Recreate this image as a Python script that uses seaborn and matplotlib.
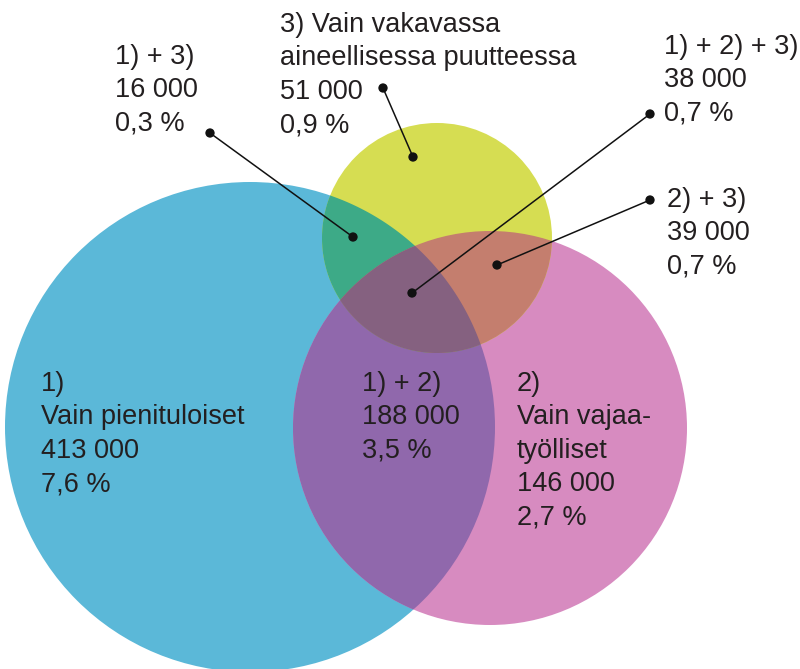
import numpy as np
import pandas as pd
import matplotlib
matplotlib.use("Agg")
import matplotlib.pyplot as plt
from matplotlib.patches import Circle, Polygon
import seaborn as sns

# Venn regions: label, count, share of population
region_names = ["1)\nVain pienituloiset", "2)\nVain vajaa-\ntyölliset",
                "3) Vain vakavassa\naineellisessa puutteessa",
                "1) + 2)", "1) + 3)", "2) + 3)", "1) + 2) + 3)"]
region_counts = ["413 000", "146 000", "51 000", "188 000", "16 000", "39 000", "38 000"]
region_shares = ["7,6 %", "2,7 %", "0,9 %", "3,5 %", "0,3 %", "0,7 %", "0,7 %"]

# layout (pixel space of the 800x669 picture)
circle_xy = [(250, 427), (490, 428), (437, 238)]
circle_r = [245, 197, 115]
label_xy = [(41, 371), (517, 371), (280, 12), (362, 371), (115, 44), (667, 187), (664, 34)]
# leader lines: label end -> region end (only for small regions)
leader_from = {2: (383, 88), 4: (210, 133), 5: (650, 200), 6: (650, 114)}
leader_to = {2: (413, 157), 4: (353, 237), 5: (497, 265), 6: (412, 293)}

colors = {"c1": "#5bb8d8", "c2": "#d78bc0", "c3": "#d6dd52",
          "c12": "#9068ac", "c13": "#3daa87", "c23": "#c47e6e", "c123": "#856180"}
text_color = "#231f20"


def lens(ca, ra, cb, rb, n=120):
    # intersection region of two circles as a polygon
    ca, cb = np.array(ca, float), np.array(cb, float)
    d = np.hypot(*(cb - ca))
    phi_ab = np.arctan2(*(cb - ca)[::-1])
    phi_ba = np.arctan2(*(ca - cb)[::-1])
    al_a = np.arccos((d**2 + ra**2 - rb**2) / (2 * d * ra))
    al_b = np.arccos((d**2 + rb**2 - ra**2) / (2 * d * rb))
    ta = np.linspace(phi_ab - al_a, phi_ab + al_a, n)
    tb = np.linspace(phi_ba - al_b, phi_ba + al_b, n)
    pa = ca + ra * np.c_[np.cos(ta), np.sin(ta)]
    pb = cb + rb * np.c_[np.cos(tb), np.sin(tb)]
    return np.vstack([pa, pb])


sns.set_theme(style="white")
plt.rcParams["font.family"] = ["Liberation Sans", "DejaVu Sans"]

fig = plt.figure(figsize=(8, 6.69), dpi=100)
ax = fig.add_axes([0, 0, 1, 1])
ax.set_xlim(0, 800)
ax.set_ylim(669, 0)
ax.axis("off")

c1 = Circle(circle_xy[0], circle_r[0], color=colors["c1"], lw=0)
c2 = Circle(circle_xy[1], circle_r[1], color=colors["c2"], lw=0)
c3 = Circle(circle_xy[2], circle_r[2], color=colors["c3"], lw=0)
for c in (c1, c2, c3):
    ax.add_patch(c)

p12 = Circle(circle_xy[1], circle_r[1], color=colors["c12"], lw=0)
ax.add_patch(p12)
p12.set_clip_path(c1)

p13 = Polygon(lens(circle_xy[0], circle_r[0], circle_xy[2], circle_r[2]),
              closed=True, color=colors["c13"], lw=0)
ax.add_patch(p13)

p23 = Circle(circle_xy[2], circle_r[2], color=colors["c23"], lw=0)
ax.add_patch(p23)
p23.set_clip_path(c2)

p123 = Polygon(lens(circle_xy[0], circle_r[0], circle_xy[2], circle_r[2]),
               closed=True, color=colors["c123"], lw=0)
ax.add_patch(p123)
p123.set_clip_path(c2)

# leader lines and dots
dots = []
for k in leader_from:
    (x0, y0), (x1, y1) = leader_from[k], leader_to[k]
    ax.plot([x0, x1], [y0, y1], color="#111111", lw=1.1, zorder=5)
    dots += [(x0, y0), (x1, y1)]
dots = pd.DataFrame(dots, columns=["x", "y"])
sns.scatterplot(data=dots, x="x", y="y", ax=ax, color="#111111", s=45,
                edgecolor="none", zorder=6, legend=False)

for name, cnt, share, (x, y) in zip(region_names, region_counts, region_shares, label_xy):
    ax.text(x, y, f"{name}\n{cnt}\n{share}", fontsize=19.5, color=text_color,
            ha="left", va="top", linespacing=1.37, zorder=7)

ax.set_xlim(0, 800)
ax.set_ylim(669, 0)
fig.savefig("out.png", dpi=100)
plt.close(fig)
